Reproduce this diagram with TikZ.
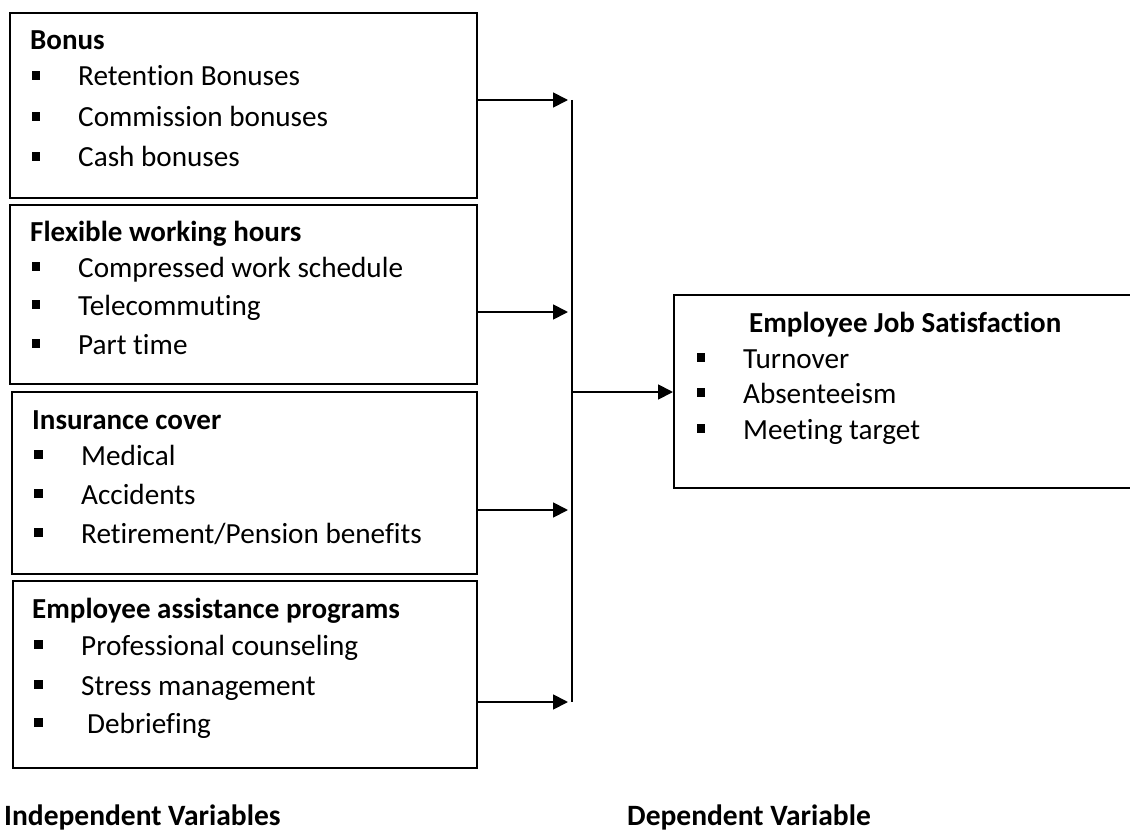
\documentclass[tikz,border=0pt]{standalone}
\usepackage{fontspec}
\setmainfont{Carlito}[Ligatures={NoCommon}]
\usetikzlibrary{arrows.meta}
\begin{document}
\begin{tikzpicture}[x=1pt,y=-1pt,
  box/.style={draw=black,line width=1.6pt,anchor=north west,inner sep=0pt},
  txt/.style={anchor=base west,inner sep=0pt,font=\fontsize{29.2}{34}\selectfont},
  ttl/.style={anchor=base west,inner sep=0pt,font=\fontsize{29}{34}\selectfont\bfseries},
  lbl/.style={anchor=base west,inner sep=0pt,font=\fontsize{29.5}{35}\selectfont\bfseries},
  bul/.style={fill=black,draw=none,minimum width=8.5pt,minimum height=9pt,inner sep=0pt},
  arr/.style={line width=1.8pt,-{Triangle[length=15pt,width=15pt]},shorten >=4pt},
  ln/.style={line width=1.8pt}]
\useasboundingbox (0,0) rectangle (1130,832);
\fill[white] (0,0) rectangle (1130,832);

% boxes
\node[box,minimum width=467pt,minimum height=185pt] (b1) at (9,12) {};
\node[box,minimum width=467pt,minimum height=179pt] (b2) at (9,204) {};
\node[box,minimum width=465pt,minimum height=182pt] (b3) at (11,391) {};
\node[box,minimum width=464pt,minimum height=187pt] (b4) at (12,580) {};
\node[box,minimum width=460pt,minimum height=193pt] (dv) at (673,294) {};

% box 1
\node[ttl] (t1) at (30,50) {Bonus};
\node[bul] (p11) at (36,75.5) {}; \node[txt] (i11) at (78,86) {Retention Bonuses};
\node[bul] (p12) at (36,116.5) {}; \node[txt] (i12) at (78,127) {Commission bonuses};
\node[bul] (p13) at (36,156.5) {}; \node[txt] (i13) at (78,167) {Cash bonuses};

% box 2
\node[ttl] (t2) at (30,241) {Flexible working hours};
\node[bul] (p21) at (36,266.5) {}; \node[txt] (i21) at (78,277) {Compressed work schedule};
\node[bul] (p22) at (36,304.5) {}; \node[txt] (i22) at (78,315) {Telecommuting};
\node[bul] (p23) at (36,343.5) {}; \node[txt] (i23) at (78,354) {Part time};

% box 3
\node[ttl] (t3) at (32,429) {Insurance cover};
\node[bul] (p31) at (38.5,454.5) {}; \node[txt] (i31) at (81,465) {Medical};
\node[bul] (p32) at (38.5,493.5) {}; \node[txt] (i32) at (81,504) {Accidents};
\node[bul] (p33) at (38.5,532.5) {}; \node[txt] (i33) at (81,543) {Retirement/Pension benefits};

% box 4
\node[ttl] (t4) at (32,618) {Employee assistance programs};
\node[bul] (p41) at (38.5,644.5) {}; \node[txt] (i41) at (81,655) {Professional counseling};
\node[bul] (p42) at (38.5,684.5) {}; \node[txt] (i42) at (81,695) {Stress management};
\node[bul] (p43) at (38.5,722.5) {}; \node[txt] (i43) at (87,733) {Debriefing};

% dependent box
\node[ttl] (td) at (749,332) {Employee Job Satisfaction};
\node[bul] (pd1) at (701,357.5) {}; \node[txt] (id1) at (743,368) {Turnover};
\node[bul] (pd2) at (701,392.5) {}; \node[txt] (id2) at (743,403) {Absenteeism};
\node[bul] (pd3) at (701,428.5) {}; \node[txt] (id3) at (743,439) {Meeting target};

% bottom labels
\node[lbl] (liv) at (4,825) {Independent Variables};
\node[lbl] (ldv) at (627,825) {Dependent Variable};

% connectors
\coordinate (j1) at (572,100);
\coordinate (j2) at (572,312);
\coordinate (j3) at (572,510);
\coordinate (j4) at (572,702);
\coordinate (jc) at (572,392);
\draw[ln] (j1) -- (j4);
\draw[arr] (b1.east |- j1) -- (j1);
\draw[arr] (b2.east |- j2) -- (j2);
\draw[arr] (b3.east |- j3) -- (j3);
\draw[arr] (b4.east |- j4) -- (j4);
\draw[line width=1.8pt,-{Triangle[length=15pt,width=15pt]}] (jc) -- (dv.west |- jc);
\end{tikzpicture}
\end{document}
